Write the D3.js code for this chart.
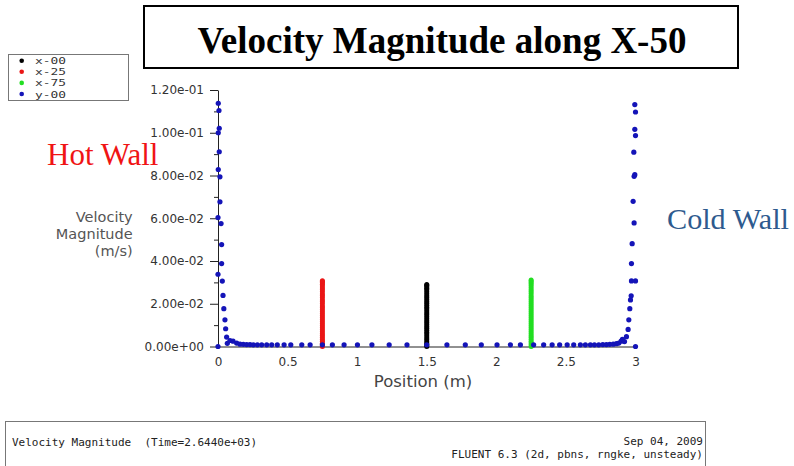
<!DOCTYPE html>
<html>
<head>
<meta charset="utf-8">
<script src="https://cdn.jsdelivr.net/npm/d3@7"></script>
<style>
  body { margin: 0; background: #fff; }
  svg { display: block; }
</style>
</head>
<body>
<svg id="chart" width="794" height="466"></svg>
<script>
// ---- data -------------------------------------------------------------
const seriesNames  = ["x-00", "x-25", "x-75", "y-00"];
const seriesColors = ["#000000", "#ea1616", "#22de22", "#1414b8"];

// vertical sample lines: each is a fixed position with a stack of values
const x00Position = 1.5;
const x00Values = [0.0000, 0.0007, 0.0014, 0.0022, 0.0031, 0.0040, 0.0049, 0.0058, 0.0067,
  0.0076, 0.0085, 0.0094, 0.0103, 0.0112, 0.0121, 0.0130, 0.0139, 0.0148, 0.0157, 0.0166,
  0.0175, 0.0184, 0.0193, 0.0202, 0.0211, 0.0220, 0.0229, 0.0238, 0.0247, 0.0256, 0.0265,
  0.0273, 0.0280, 0.0286, 0.0290];

const x25Position = 0.75;
const x25Values = [0.0000, 0.0007, 0.0015, 0.0024, 0.0033, 0.0042, 0.0051, 0.0060, 0.0069,
  0.0078, 0.0088, 0.0097, 0.0106, 0.0116, 0.0125, 0.0134, 0.0144, 0.0153, 0.0162, 0.0172,
  0.0181, 0.0190, 0.0200, 0.0209, 0.0218, 0.0228, 0.0237, 0.0246, 0.0256, 0.0265, 0.0274,
  0.0283, 0.0291, 0.0298, 0.0304, 0.0308];

const x75Position = 2.25;
const x75Values = [0.0000, 0.0008, 0.0016, 0.0025, 0.0034, 0.0043, 0.0052, 0.0061, 0.0070,
  0.0080, 0.0089, 0.0098, 0.0108, 0.0117, 0.0126, 0.0136, 0.0145, 0.0154, 0.0164, 0.0173,
  0.0182, 0.0192, 0.0201, 0.0210, 0.0220, 0.0229, 0.0238, 0.0248, 0.0257, 0.0266, 0.0275,
  0.0284, 0.0292, 0.0299, 0.0306, 0.0311];

// horizontal line y-00: position (m) and velocity magnitude (m/s)
const y00Positions = [
  0.000, 0.000, 0.000, 0.002, 0.002, 0.002, 0.007, 0.009, 0.009, 0.014,
  0.014, 0.022, 0.026, 0.026, 0.031, 0.036, 0.042, 0.050, 0.055, 0.062,
  0.067, 0.086, 0.108, 0.134, 0.158, 0.182, 0.206, 0.230, 0.254, 0.283,
  0.314, 0.350, 0.386, 0.426, 0.475, 0.523, 0.602, 0.662, 0.750, 0.822,
  0.906, 1.002, 1.106, 1.230, 1.358, 1.500, 1.645, 1.777, 1.892, 2.005,
  2.101, 2.173, 2.268, 2.340, 2.401, 2.455, 2.509, 2.556, 2.604, 2.640,
  2.676, 2.705, 2.736, 2.765, 2.791, 2.815, 2.840, 2.863, 2.880, 2.897,
  2.906, 2.921, 2.935, 2.947, 2.952, 2.959, 2.964, 2.969, 2.971, 3.000,
  2.971, 2.976, 2.990, 2.983, 2.990, 2.995, 2.988, 3.000, 2.995, 3.000,
  2.995, 3.000];
const y00Values = [
  0.0000, 0.0338, 0.0603, 0.0828, 0.1000, 0.1138, 0.1104, 0.1021, 0.0911, 0.0794,
  0.0677, 0.0575, 0.0477, 0.0388, 0.0306, 0.0239, 0.0177, 0.0125, 0.0083, 0.0044,
  0.0015, 0.0028, 0.0025, 0.0016, 0.0011, 0.0010, 0.0009, 0.0009, 0.0008, 0.0008,
  0.0008, 0.0008, 0.0008, 0.0008, 0.0008, 0.0008, 0.0008, 0.0008, 0.0008, 0.0008,
  0.0008, 0.0008, 0.0008, 0.0008, 0.0008, 0.0008, 0.0008, 0.0008, 0.0008, 0.0008,
  0.0008, 0.0008, 0.0008, 0.0008, 0.0008, 0.0008, 0.0008, 0.0008, 0.0008, 0.0008,
  0.0008, 0.0008, 0.0008, 0.0009, 0.0009, 0.0010, 0.0011, 0.0013, 0.0016, 0.0025,
  0.0034, 0.0023, 0.0046, 0.0080, 0.0125, 0.0177, 0.0218, 0.0237, 0.0307, 0.0307,
  0.0388, 0.0481, 0.0578, 0.0679, 0.0796, 0.0804, 0.0909, 0.0987, 0.1016, 0.1097,
  0.1132, 0.0000];

// axis ticks
const yTickValues = [0, 0.02, 0.04, 0.06, 0.08, 0.10, 0.12];
const yTickLabels = ["0.00e+00", "2.00e-02", "4.00e-02", "6.00e-02", "8.00e-02", "1.00e-01", "1.20e-01"];
const yMinorTicks = [0.01, 0.03, 0.05, 0.07, 0.09, 0.11];
const xTickValues = [0, 0.5, 1, 1.5, 2, 2.5, 3];
const xTickLabels = ["0", "0.5", "1", "1.5", "2", "2.5", "3"];

// text
const titleText = "Velocity Magnitude along X-50";
const yAxisTitle = ["Velocity", "Magnitude", "(m/s)"];
const xAxisTitle = "Position (m)";
const hotLabel = "Hot Wall";
const coldLabel = "Cold Wall";
const footerLeft = "Velocity Magnitude  (Time=2.6440e+03)";
const footerRight = ["Sep 04, 2009", "FLUENT 6.3 (2d, pbns, rngke, unsteady)"];

// ---- drawing ----------------------------------------------------------
const svg = d3.select("#chart");
const uiFont = "'DejaVu Sans', sans-serif";
const monoFont = "'DejaVu Sans Mono', monospace";
const serifFont = "'Liberation Serif', 'Times New Roman', serif";

const x = d3.scaleLinear().domain([0, 3]).range([218, 635.5]);
const y = d3.scaleLinear().domain([0, 0.12]).range([346.5, 90]);

// title box
svg.append("rect")
  .attr("x", 144).attr("y", 6).attr("width", 594).attr("height", 62)
  .attr("fill", "#fff").attr("stroke", "#000").attr("stroke-width", 2);
svg.append("text")
  .attr("x", 442).attr("y", 53)
  .attr("text-anchor", "middle")
  .attr("font-family", serifFont)
  .attr("font-weight", "bold").attr("font-size", 37)
  .attr("fill", "#000")
  .text(titleText);

// legend
const legend = svg.append("g");
legend.append("rect")
  .attr("x", 8.5).attr("y", 54.5).attr("width", 120).attr("height", 46)
  .attr("fill", "#fff").attr("stroke", "#777").attr("stroke-width", 1);
seriesNames.forEach((name, i) => {
  const cy = 60.7 + i * 11.1;
  legend.append("circle").attr("cx", 21.7).attr("cy", cy).attr("r", 2.3)
    .attr("fill", seriesColors[i]);
  legend.append("text")
    .attr("x", 35).attr("y", cy + 3.5)
    .attr("font-family", monoFont).attr("font-size", 9.5)
    .attr("textLength", 31).attr("lengthAdjust", "spacingAndGlyphs")
    .attr("fill", "#333")
    .text(name);
});

// y axis
const yAxis = d3.axisLeft(y)
  .tickValues(yTickValues)
  .tickFormat((d, i) => yTickLabels[i])
  .tickSizeInner(8).tickSizeOuter(0).tickPadding(6);
const gy = svg.append("g").attr("transform", "translate(218,0)").call(yAxis);
gy.select(".domain").attr("stroke", "#222");
gy.selectAll(".tick line").attr("stroke", "#222");
gy.selectAll(".tick text")
  .attr("font-family", uiFont).attr("font-size", 12).attr("fill", "#333");

const yMinor = d3.axisLeft(y).tickValues(yMinorTicks).tickFormat("")
  .tickSizeInner(4).tickSizeOuter(0);
const gym = svg.append("g").attr("transform", "translate(218,0)").call(yMinor);
gym.select(".domain").remove();
gym.selectAll(".tick line").attr("stroke", "#222");

// x axis
const xAxis = d3.axisBottom(x)
  .tickValues(xTickValues)
  .tickFormat((d, i) => xTickLabels[i])
  .tickSizeInner(0).tickSizeOuter(0).tickPadding(10.5);
const gx = svg.append("g").attr("transform", "translate(0,346.5)").call(xAxis);
gx.select(".domain").attr("stroke", "#222");
gx.selectAll(".tick text")
  .attr("font-family", uiFont).attr("font-size", 12).attr("fill", "#333");

// axis titles
const yt = svg.append("text")
  .attr("font-family", uiFont).attr("font-size", 14.5)
  .attr("fill", "#555").attr("text-anchor", "end");
yAxisTitle.forEach((line, i) => {
  yt.append("tspan").attr("x", 132.7).attr("y", 222 + i * 17).text(line);
});
svg.append("text")
  .attr("x", 423).attr("y", 387)
  .attr("text-anchor", "middle")
  .attr("font-family", uiFont).attr("font-size", 16.5)
  .attr("fill", "#444")
  .text(xAxisTitle);

// data points
const points = [];
x00Values.forEach(v => points.push({ px: x00Position, v, c: seriesColors[0], r: 2.5 }));
x25Values.forEach(v => points.push({ px: x25Position, v, c: seriesColors[1], r: 2.5 }));
x75Values.forEach(v => points.push({ px: x75Position, v, c: seriesColors[2], r: 2.5 }));
y00Positions.forEach((p, i) => points.push({ px: p, v: y00Values[i], c: seriesColors[3], r: 2.6 }));

svg.append("g").selectAll("circle")
  .data(points)
  .join("circle")
  .attr("cx", d => x(d.px))
  .attr("cy", d => y(d.v))
  .attr("r", d => d.r)
  .attr("fill", d => d.c);

// wall annotations
svg.append("text")
  .attr("x", 47).attr("y", 164.5)
  .attr("font-family", serifFont)
  .attr("font-size", 31).attr("fill", "#f01414")
  .text(hotLabel);
svg.append("text")
  .attr("x", 667).attr("y", 229)
  .attr("font-family", serifFont)
  .attr("font-size", 30.2).attr("fill", "#2e5a8e")
  .text(coldLabel);

// footer box
svg.append("rect")
  .attr("x", 5.5).attr("y", 421.5).attr("width", 700).attr("height", 60)
  .attr("fill", "#fff").attr("stroke", "#777").attr("stroke-width", 1);
svg.append("text")
  .attr("x", 12).attr("y", 446)
  .attr("font-family", monoFont).attr("font-size", 11)
  .attr("fill", "#222").style("white-space", "pre")
  .text(footerLeft);
footerRight.forEach((line, i) => {
  svg.append("text")
    .attr("x", 703).attr("y", 445 + i * 13)
    .attr("text-anchor", "end")
    .attr("font-family", monoFont).attr("font-size", 11)
    .attr("fill", "#222").style("white-space", "pre")
    .text(line);
});
</script>
</body>
</html>
